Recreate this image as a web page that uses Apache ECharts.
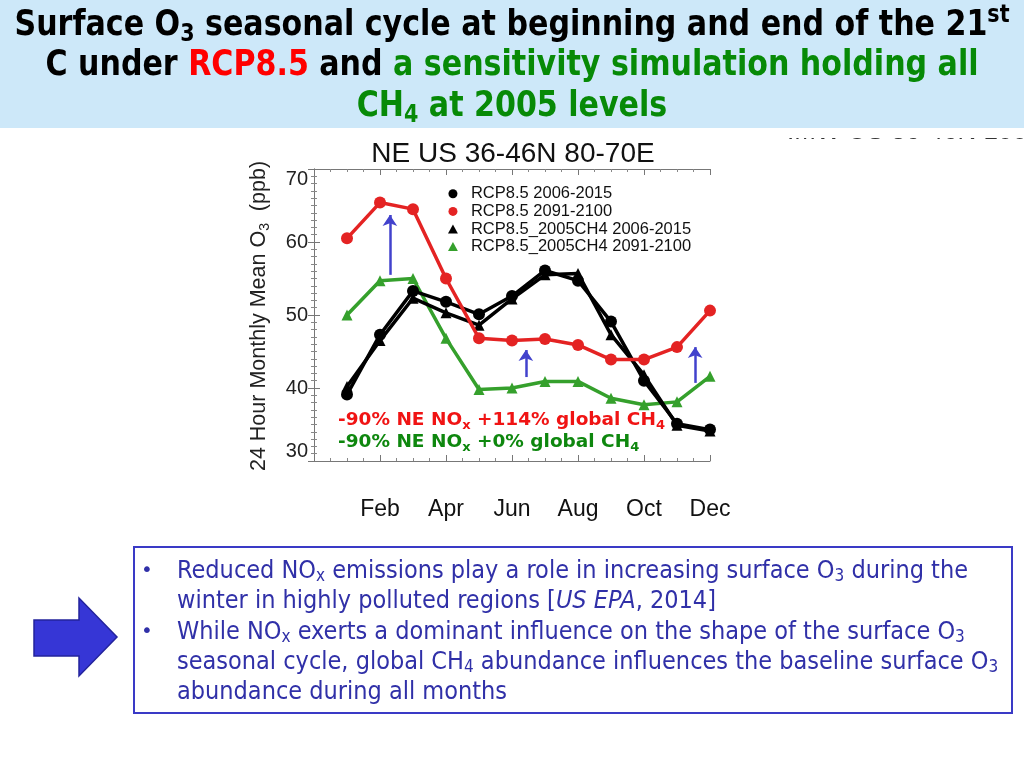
<!DOCTYPE html>
<html><head><meta charset="utf-8">
<script src="https://cdn.jsdelivr.net/npm/echarts@6/dist/echarts.min.js"></script>
<style>html,body{margin:0;padding:0;background:#fff}#c{width:1024px;height:768px}</style>
</head><body><div id="c"></div>
<script>
// ---------- data ----------
const months = [1, 2, 3, 4, 5, 6, 7, 8, 9, 10, 11, 12];
const xTickLabels = ['', 'Feb', 'Apr', 'Jun', 'Aug', 'Oct', 'Dec']; // at 0,2,4,...,12
const seriesNames = ['RCP8.5 2006-2015', 'RCP8.5 2091-2100', 'RCP8.5_2005CH4 2006-2015', 'RCP8.5_2005CH4 2091-2100'];
const rcp85_2006_2015 = [39.1, 47.3, 53.3, 51.8, 50.1, 52.6, 56.1, 54.7, 49.1, 41.0, 35.1, 34.3];
const rcp85_2091_2100 = [60.5, 65.4, 64.5, 55.0, 46.8, 46.5, 46.7, 45.9, 43.9, 43.9, 45.6, 50.6];
const ch4_2006_2015   = [40.2, 46.5, 52.3, 50.3, 48.6, 52.2, 55.5, 55.7, 47.3, 41.8, 34.9, 34.1];
const ch4_2091_2100   = [50.0, 54.7, 55.0, 46.8, 39.8, 40.0, 40.9, 40.9, 38.6, 37.7, 38.1, 41.6];
// arrows: [month position, from ppb, to ppb]
const o3Arrows = [[2.3, 55.5, 63.7], [6.42, 41.5, 45.2], [11.55, 40.7, 45.6]];

// ---------- helpers ----------
const mctx = document.createElement('canvas').getContext('2d');
function segWidth(segs, family) {
  let w = 0;
  for (const s of segs) {
    mctx.font = (s[3] || 'normal') + ' ' + (s[2] || 'normal') + ' ' + s[1] + 'px ' + family;
    w += mctx.measureText(s[0]).width;
  }
  return w;
}
const pair = arr => months.map((m, i) => [m, arr[i]]);

const HF = '"DejaVu Sans Condensed","DejaVu Sans",sans-serif';
const HS = 35, HSS = 24;
const h1 = segWidth([['Surface O', HS, 'bold'], ['3', HSS, 'bold'], [' seasonal cycle at beginning and end of the 21', HS, 'bold'], ['st', HSS, 'bold']], HF);
const hScale = 995 / h1;

const BF = '"DejaVu Sans Condensed","DejaVu Sans",sans-serif';
const BS = 25, BSS = 17;
const b1 = segWidth([['Reduced NO', BS], ['x', BSS], [' emissions play a role in increasing surface O', BS], ['3', BSS], [' during the', BS]], BF);
const bScale = 791 / b1;

const AF = '"DejaVu Sans",sans-serif';
const AS = 17, ASS = 12;
const a1 = segWidth([['-90% NE NO', AS, 'bold'], ['x', ASS, 'bold'], [' +114% global CH', AS, 'bold'], ['4', ASS, 'bold']], AF);
const aScale = 327 / a1;

function richSet(family, size, subSize, color, weight, subPad, supPad) {
  return {
    m: {fontFamily: family, fontSize: size, fontWeight: weight, fill: color, color: color, lineHeight: size * 1.25},
    s: {fontFamily: family, fontSize: subSize, fontWeight: weight, fill: color, color: color, padding: [subPad, 0, 0, 0]},
    u: {fontFamily: family, fontSize: subSize, fontWeight: weight, fill: color, color: color, padding: [0, 0, supPad, 0]},
    i: {fontFamily: family, fontSize: size, fontWeight: weight, fontStyle: 'italic', fill: color, color: color, lineHeight: size * 1.25}
  };
}
function mergeRich() { return Object.assign({}, ...arguments); }

const hdrBlack = richSet(HF, HS, HSS, '#000', 'bold', 18, 20);
const hdrRed = {r: {fontFamily: HF, fontSize: HS, fontWeight: 'bold', fill: '#ff0000', color: '#ff0000', lineHeight: HS * 1.25}};
const hdrGreen = {
  g: {fontFamily: HF, fontSize: HS, fontWeight: 'bold', fill: '#078a07', color: '#078a07', lineHeight: HS * 1.25},
  gs: {fontFamily: HF, fontSize: HSS, fontWeight: 'bold', fill: '#078a07', color: '#078a07', padding: [18, 0, 0, 0]}
};
const bodyBlue = '#3030a8';
const bodyRich = richSet(BF, BS, BSS, bodyBlue, 'normal', 12, 0);

const annRed = {
  r: {fontFamily: AF, fontSize: AS, fontWeight: 'bold', fill: '#f01414', color: '#f01414', lineHeight: 21},
  rs: {fontFamily: AF, fontSize: ASS, fontWeight: 'bold', fill: '#f01414', color: '#f01414', padding: [9, 0, 0, 0]}
};
const annGreen = {
  g: {fontFamily: AF, fontSize: AS, fontWeight: 'bold', fill: '#0e870e', color: '#0e870e', lineHeight: 21},
  gs: {fontFamily: AF, fontSize: ASS, fontWeight: 'bold', fill: '#0e870e', color: '#0e870e', padding: [9, 0, 0, 0]}
};

const bodyLines = [
  '{m|Reduced NO}{s|x}{m| emissions play a role in increasing surface O}{s|3}{m| during the}',
  '{m|winter in highly polluted regions [}{i|US EPA}{m|, 2014]}',
  '{m|While NO}{s|x}{m| exerts a dominant influence on the shape of the surface O}{s|3}',
  '{m|seasonal cycle, global CH}{s|4}{m| abundance influences the baseline surface O}{s|3}',
  '{m|abundance during all months}'
];
const bodyY = [571, 601, 632, 662, 692];

const graphics = [
  // clipped neighbouring panel title (mostly hidden)
  {type: 'text', z: 1, x: 787, y: 132, style: {text: 'IMW US 36-46N 100-90E', font: '26px "Liberation Sans"', fill: '#333', align: 'left', verticalAlign: 'middle'}},
  {type: 'rect', z: 2, shape: {x: 740, y: 100, width: 284, height: 38}, style: {fill: '#fff'}},
  // header banner
  {type: 'rect', z: 3, shape: {x: 0, y: 0, width: 1024, height: 128}, style: {fill: '#cde8f9'}},
  {type: 'text', z: 4, x: 512, y: 26, scaleX: hScale, style: {text: '{m|Surface O}{s|3}{m| seasonal cycle at beginning and end of the 21}{u|st}', rich: hdrBlack, align: 'center', verticalAlign: 'middle'}},
  {type: 'text', z: 4, x: 512, y: 66, scaleX: hScale, style: {text: '{m|C under }{r|RCP8.5}{m| and }{g|a sensitivity simulation holding all}', rich: mergeRich(hdrBlack, hdrRed, hdrGreen), align: 'center', verticalAlign: 'middle'}},
  {type: 'text', z: 4, x: 512, y: 107, scaleX: hScale, style: {text: '{g|CH}{gs|4}{g| at 2005 levels}', rich: hdrGreen, align: 'center', verticalAlign: 'middle'}},
  // in-plot annotations
  {type: 'text', z: 10, x: 338, y: 421, scaleX: aScale, style: {text: '{r|-90% NE NO}{rs|x}{r| +114% global CH}{rs|4}', rich: annRed, align: 'left', verticalAlign: 'middle'}},
  {type: 'text', z: 10, x: 338, y: 443, scaleX: aScale, style: {text: '{g|-90% NE NO}{gs|x}{g| +0% global CH}{gs|4}', rich: annGreen, align: 'left', verticalAlign: 'middle'}},
  // y axis name
  {type: 'text', z: 10, x: 259, y: 316, rotation: Math.PI / 2, style: {text: '{m|24 Hour Monthly Mean O}{s|3}{m|  (ppb)}', rich: richSet('"Liberation Sans"', 21.5, 14, '#222', 'normal', 12, 0), align: 'center', verticalAlign: 'middle'}},
  // big blue arrow
  {type: 'polygon', z: 5, shape: {points: [[34, 620], [79, 620], [79, 598], [117, 637], [79, 676], [79, 656], [34, 656]]}, style: {fill: '#3636d6', stroke: '#23239c', lineWidth: 1.5}},
  // text box
  {type: 'rect', z: 5, shape: {x: 134, y: 547, width: 878, height: 166}, style: {fill: 'none', stroke: '#3a3ac6', lineWidth: 2}},
  {type: 'text', z: 6, x: 147, y: 571, style: {text: '•', font: '20px "DejaVu Sans"', fill: bodyBlue, align: 'center', verticalAlign: 'middle'}},
  {type: 'text', z: 6, x: 147, y: 632, style: {text: '•', font: '20px "DejaVu Sans"', fill: bodyBlue, align: 'center', verticalAlign: 'middle'}}
];
bodyLines.forEach((t, i) => {
  graphics.push({type: 'text', z: 6, x: 177, y: bodyY[i], scaleX: bScale, style: {text: t, rich: bodyRich, align: 'left', verticalAlign: 'middle'}});
});

const triPath = 'path://M0,10L5.5,0L11,10Z';
const colors = ['#000000', '#e42323', '#000000', '#35a02c'];

const axisCommon = {
  type: 'value',
  axisLine: {show: true, lineStyle: {color: '#777', width: 1}},
  axisTick: {show: true, inside: true, length: 6, lineStyle: {color: '#777'}},
  minorTick: {show: true, length: 3, lineStyle: {color: '#888'}},
  splitLine: {show: false}
};

const option = {
  animation: false,
  backgroundColor: '#fff',
  title: {
    text: 'NE US 36-46N 80-70E', left: 508, top: 135, textAlign: 'center',
    textStyle: {fontFamily: '"Liberation Sans"', fontSize: 28, fontWeight: 'normal', color: '#111'}
  },
  legend: {
    orient: 'vertical', left: 443, top: 180, itemGap: 0, itemWidth: 26, itemHeight: 9,
    textStyle: {fontFamily: '"Liberation Sans"', fontSize: 16.5, color: '#111', lineHeight: 17.6},
    data: [
      {name: seriesNames[0], icon: 'circle'},
      {name: seriesNames[1], icon: 'circle'},
      {name: seriesNames[2], icon: triPath},
      {name: seriesNames[3], icon: triPath}
    ],
    selectedMode: false
  },
  grid: {left: 314, top: 169, width: 396, height: 292, containLabel: false},
  xAxis: [
    Object.assign({}, axisCommon, {
      min: 0, max: 12, interval: 2, position: 'bottom',
      minorTick: {show: true, splitNumber: 4, length: 3, lineStyle: {color: '#888'}},
      axisLabel: {margin: 37, fontFamily: '"Liberation Sans"', fontSize: 23, color: '#111',
        formatter: v => xTickLabels[Math.round(v / 2)] || ''}
    }),
    Object.assign({}, axisCommon, {
      min: 0, max: 12, interval: 2, position: 'top',
      minorTick: {show: true, splitNumber: 4, length: 3, lineStyle: {color: '#888'}},
      axisLabel: {show: false}
    })
  ],
  yAxis: [
    Object.assign({}, axisCommon, {
      min: 30, max: 70, interval: 10, position: 'left',
      minorTick: {show: true, splitNumber: 10, length: 3, lineStyle: {color: '#888'}},
      axisLabel: {margin: 6, fontFamily: '"Liberation Sans"', fontSize: 20, color: '#222',
        verticalAlignMaxLabel: 'top', verticalAlignMinLabel: 'bottom'}
    }),
    Object.assign({}, axisCommon, {
      min: 30, max: 70, interval: 10, position: 'right',
      minorTick: {show: true, splitNumber: 10, length: 3, lineStyle: {color: '#888'}},
      axisLabel: {show: false}
    })
  ],
  series: [
    {name: seriesNames[0], type: 'line', data: pair(rcp85_2006_2015), symbol: 'circle', symbolSize: 12,
      itemStyle: {color: colors[0]}, lineStyle: {color: colors[0], width: 3.5}, z: 3},
    {name: seriesNames[2], type: 'line', data: pair(ch4_2006_2015), symbol: 'triangle', symbolSize: 11,
      itemStyle: {color: colors[2]}, lineStyle: {color: colors[2], width: 3.5}, z: 3},
    {name: seriesNames[3], type: 'line', data: pair(ch4_2091_2100), symbol: 'triangle', symbolSize: 11,
      itemStyle: {color: colors[3]}, lineStyle: {color: colors[3], width: 3.5}, z: 2},
    {name: seriesNames[1], type: 'line', data: pair(rcp85_2091_2100), symbol: 'circle', symbolSize: 12,
      itemStyle: {color: colors[1]}, lineStyle: {color: colors[1], width: 3.5}, z: 4,
      markLine: {
        silent: true, symbol: ['none', 'arrow'], symbolSize: 11, label: {show: false},
        lineStyle: {color: '#4242cc', width: 2.5, type: 'solid'},
        emphasis: {disabled: true},
        data: o3Arrows.map(a => [{coord: [a[0], a[1]]}, {coord: [a[0], a[2]]}])
      }}
  ],
  graphic: graphics
};
const chart = echarts.init(document.getElementById('c'));
chart.setOption(option);
</script>
</body></html>
